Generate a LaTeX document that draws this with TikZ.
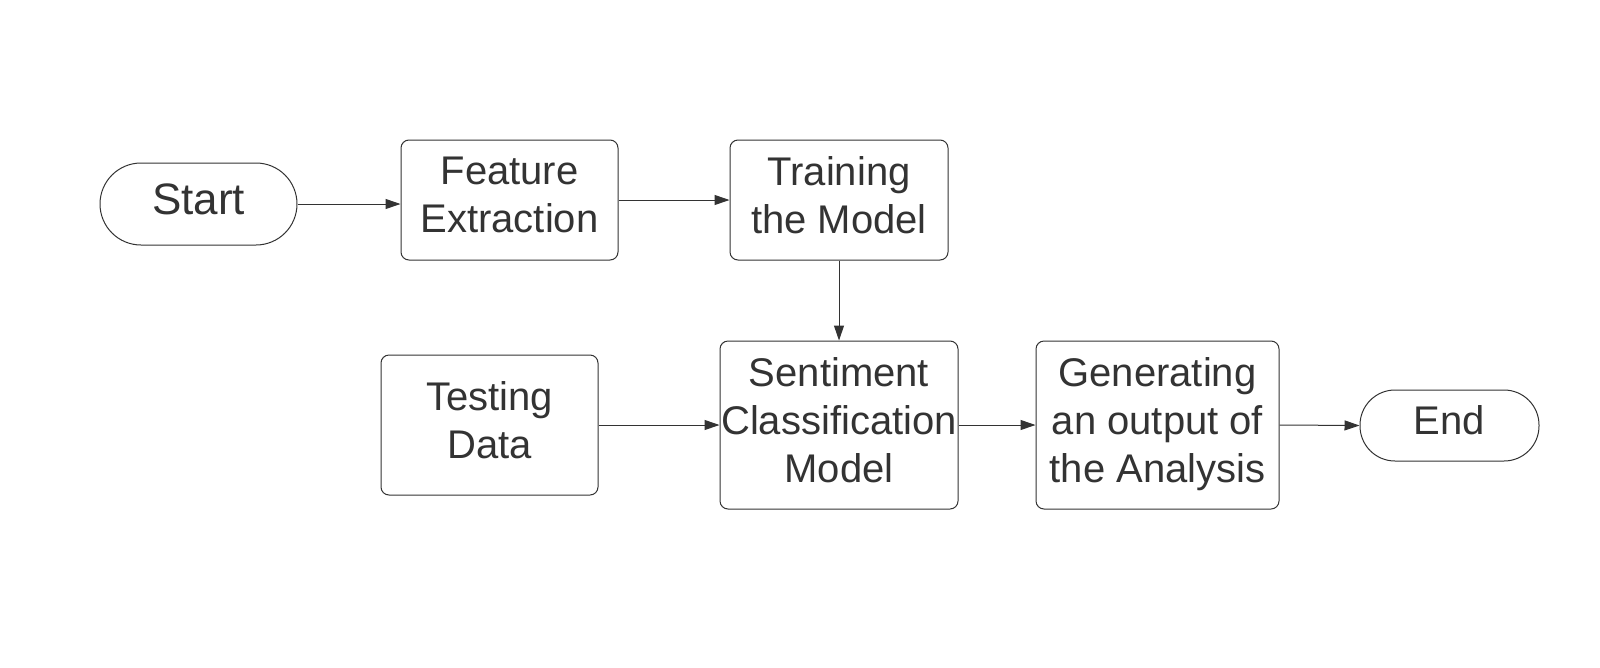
\documentclass[tikz,border=0pt]{standalone}
\usepackage{fontspec}
\setmainfont{Liberation Sans}
\usetikzlibrary{arrows.meta}
\definecolor{ink}{HTML}{333333}
\tikzset{
  box/.style={draw=ink, line width=1pt, rounded corners=8pt, inner sep=0pt},
  term/.style={draw=ink, line width=1pt, inner sep=0pt},
  txt/.style={text=ink, align=center, font=\fontsize{40}{48}\selectfont, inner sep=0pt},
  conn/.style={draw=ink, line width=1pt, -{Triangle[length=15pt,width=10pt]}}
}
\begin{document}
\begin{tikzpicture}[x=1pt,y=-1pt]
\path[use as bounding box, fill=white] (0,0) rectangle (1600,667);
\node[term, minimum width=197pt, minimum height=82pt, rounded corners=41pt,
  label={[txt, font=\fontsize{44}{52}\selectfont, yshift=5pt]center:Start}] (start) at (198.5,204) {};
\node[box, minimum width=217pt, minimum height=120pt,
  label={[txt, yshift=5pt]center:{Feature\\Extraction}}] (feat) at (509.5,200) {};
\node[box, minimum width=218pt, minimum height=120pt,
  label={[txt, yshift=5pt]center:{Training\\the Model}}] (train) at (839,200) {};
\node[box, minimum width=217pt, minimum height=140pt,
  label={[txt, yshift=5pt]center:{Testing\\Data}}] (test) at (489.5,425) {};
\node[box, minimum width=238pt, minimum height=168pt,
  label={[txt, yshift=5pt]center:{Sentiment\\Classification\\Model}}] (sent) at (839,425) {};
\node[box, minimum width=243pt, minimum height=168pt,
  label={[txt, yshift=1pt]center:{Generating\\an output of\\the Analysis}}] (gen) at (1157.5,425) {};
\node[term, minimum width=179pt, minimum height=71pt, rounded corners=35pt,
  label={[txt, yshift=5pt]center:End}] (end) at (1449.5,425.5) {};
\draw[conn] (start.east) -- (start.east -| feat.west);
\draw[conn] (feat.east) -- (train.west);
\draw[conn] (train.south) -- (sent.north);
\draw[conn] (test.east) -- (test.east -| sent.west);
\draw[conn] (sent.east) -- (gen.west);
\draw[conn] (gen.east) -- (end.west);
\end{tikzpicture}
\end{document}
